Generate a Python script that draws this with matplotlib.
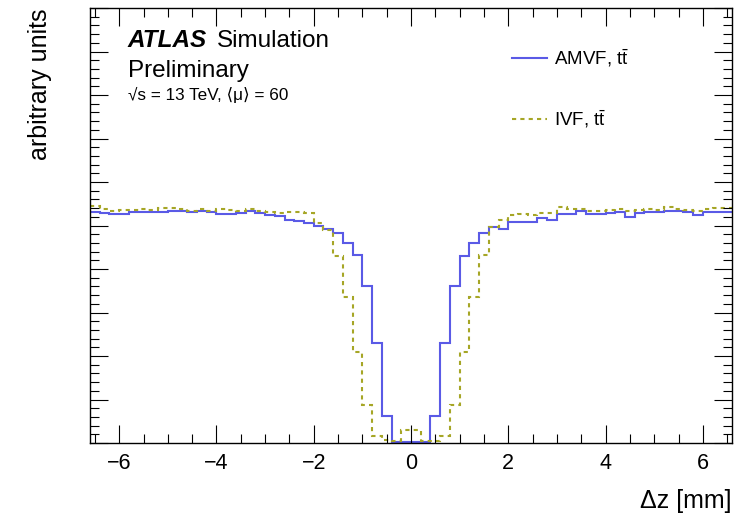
import matplotlib
matplotlib.use('Agg')
import matplotlib.pyplot as plt
import numpy as np
from matplotlib.lines import Line2D
from matplotlib.ticker import MultipleLocator

plt.rcParams['font.family'] = ['Liberation Sans', 'DejaVu Sans']
plt.rcParams['mathtext.fontset'] = 'custom'
plt.rcParams['mathtext.rm'] = 'Liberation Sans'
plt.rcParams['mathtext.it'] = 'Liberation Sans:italic'

# hranice binů v Δz [mm], šířka 0.2 mm
edges = np.linspace(-6.6, 6.6, 67)

# AMVF, ttbar
amvf = [5.32, 5.29, 5.26, 5.26, 5.30, 5.31, 5.31, 5.31, 5.33, 5.34, 5.31,
        5.34, 5.30, 5.26, 5.26, 5.28, 5.34, 5.28, 5.24, 5.22, 5.12, 5.11,
        5.05, 4.99, 4.93, 4.82, 4.60, 4.32, 3.62, 2.29, 0.62,
        0.02, 0.02, 0.02, 0.02,
        0.62, 2.29, 3.62, 4.30, 4.60, 4.82, 4.97, 4.91, 5.07, 5.09, 5.09,
        5.18, 5.13, 5.26, 5.26, 5.33, 5.27, 5.27, 5.28, 5.30, 5.20, 5.28,
        5.32, 5.30, 5.34, 5.34, 5.32, 5.23, 5.30, 5.30, 5.30]

# IVF, ttbar
ivf = [5.45, 5.38, 5.34, 5.36, 5.36, 5.39, 5.36, 5.40, 5.40, 5.37, 5.33,
       5.37, 5.33, 5.38, 5.36, 5.33, 5.37, 5.34, 5.30, 5.28, 5.30, 5.30,
       5.29, 5.05, 4.90, 4.29, 3.36, 2.10, 0.87, 0.15, 0.07,
       0.04, 0.31, 0.31, 0.04,
       0.05, 0.15, 0.87, 2.10, 3.36, 4.33, 4.97, 5.12, 5.24, 5.26, 5.23,
       5.28, 5.28, 5.42, 5.37, 5.39, 5.33, 5.34, 5.36, 5.39, 5.33, 5.36,
       5.37, 5.36, 5.43, 5.38, 5.36, 5.34, 5.37, 5.40, 5.40]

c_amvf = '#5a5ae6'
c_ivf = '#a6a626'

fig = plt.figure(figsize=(7.35, 5.21), dpi=100)
ax = fig.add_axes([90 / 735, 78 / 521, 642 / 735, 435 / 521])

ax.stairs(amvf, edges, baseline=None, color=c_amvf, lw=1.5)
ax.stairs(ivf, edges, baseline=None, color=c_ivf, lw=1.5, linestyle=(0, (2, 2)))

ax.set_xlim(-6.6, 6.6)
ax.set_ylim(0, 10)
ax.xaxis.set_major_locator(MultipleLocator(2))
ax.xaxis.set_minor_locator(MultipleLocator(0.5))
ax.yaxis.set_major_locator(MultipleLocator(1))
ax.yaxis.set_minor_locator(MultipleLocator(0.2))
ax.tick_params(which='both', direction='in', top=True, right=True,
               labelleft=False, labelsize=15.5, pad=7)
ax.tick_params(which='major', length=13, width=0.8)
ax.tick_params(which='minor', length=6.5, width=0.8)
for s in ax.spines.values():
    s.set_linewidth(1.0)

ax.set_xlabel('Δz [mm]', fontsize=18, loc='right', labelpad=11)
ax.set_ylabel('arbitrary units', fontsize=18, loc='top', labelpad=27)

# legenda
handles = [Line2D([], [], color=c_amvf, lw=1.5),
           Line2D([], [], color=c_ivf, lw=1.5, linestyle=(0, (2, 2)))]
labels = [r'AMVF, $\mathrm{t}\bar{\mathrm{t}}$', r'IVF, $\mathrm{t}\bar{\mathrm{t}}$']
ax.legend(handles, labels, loc='upper left', bbox_to_anchor=(0.658, 0.91),
          frameon=False, fontsize=13.5, handlelength=1.85, handletextpad=0.35,
          labelspacing=2.1, borderpad=0, borderaxespad=0)

# ATLAS popisky
fig.text(128 / 735, 1 - 47 / 521, 'ATLAS', fontsize=17.5, weight='bold', style='italic')
fig.text(217 / 735, 1 - 47 / 521, 'Simulation', fontsize=17.5)
fig.text(128 / 735, 1 - 77 / 521, 'Preliminary', fontsize=17.5)
fig.text(128 / 735, 1 - 100 / 521, '√s = 13 TeV, ⟨μ⟩ = 60', fontsize=12.3)

fig.savefig('out.png', dpi=100)
